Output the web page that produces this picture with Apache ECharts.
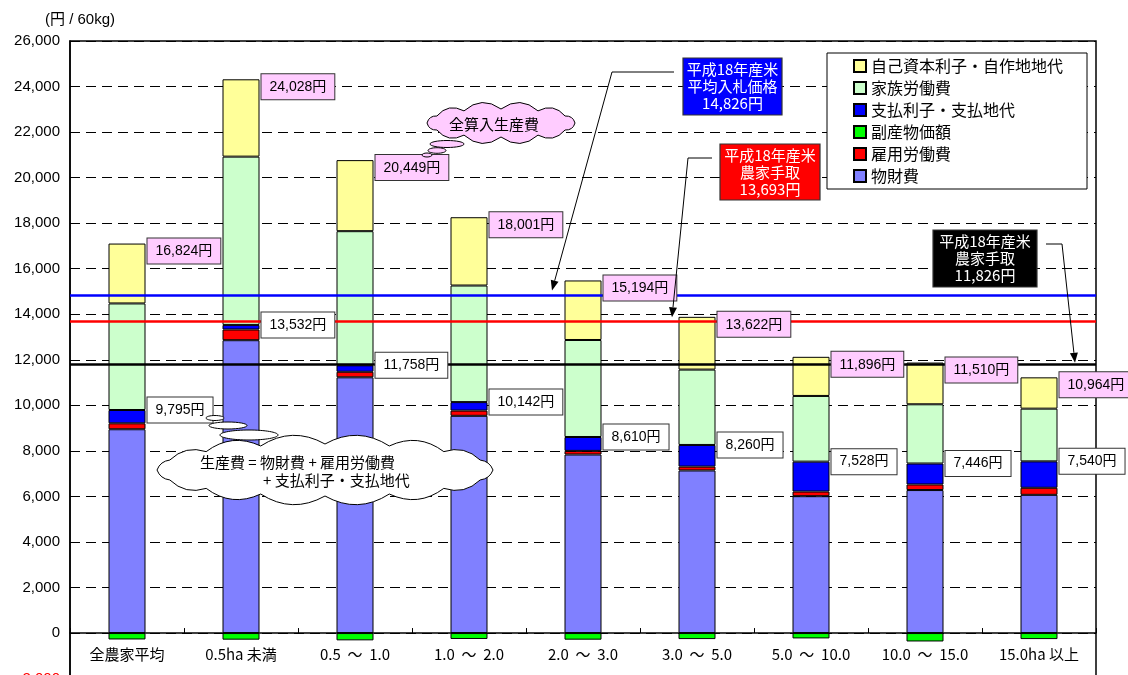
<!DOCTYPE html>
<html>
<head>
<meta charset="utf-8">
<script src="https://cdn.jsdelivr.net/npm/echarts@6/dist/echarts.min.js"></script>
<style>
  html, body { margin: 0; padding: 0; background: #fff; }
  #chart { width: 1128px; height: 675px; }
</style>
</head>
<body>
<div id="chart"></div>
<script>
// 作付規模別 米生産費（円 / 60kg）
const categories = ['全農家平均', '0.5ha 未満', '0.5  ～  1.0', '1.0  ～  2.0', '2.0  ～  3.0',
                    '3.0  ～  5.0', '5.0  ～  10.0', '10.0  ～  15.0', '15.0ha 以上'];

const materialCost     = [8950, 12860, 11230, 9540, 7840, 7140, 6010, 6280, 6070];   // 物財費
const hiredLabor       = [260, 470, 245, 230, 160, 170, 205, 245, 310];              // 雇用労働費
const paidInterestRent = [585, 202, 283, 372, 610, 950, 1313, 921, 1160];            // 支払利子・支払地代
const familyLabor      = [4680, 7390, 5890, 5120, 4260, 3310, 2885, 2600, 2315];     // 家族労働費
const ownCapitalLand   = [2630, 3396, 3121, 2999, 2614, 2317, 1718, 1834, 1374];     // 自己資本利子・自作地地代
const byproductValue   = [-281, -290, -320, -260, -290, -265, -235, -370, -265];     // 副産物価額

// 生産費（物財費＋雇用労働費＋支払利子・支払地代）
const productionCost = [9795, 13532, 11758, 10142, 8610, 8260, 7528, 7446, 7540];
// 全算入生産費
const fullCost = [16824, 24028, 20449, 18001, 15194, 13622, 11896, 11510, 10964];

// 平成18年産米の基準価格
const avgBidPrice = 14826;     // 平均入札価格
const farmerReceipt = 13693;   // 農家手取
const farmerReceipt2 = 11826;  // 農家手取

const yTicks = { min: -2000, max: 26000, interval: 2000 };

const FONT = '"Noto Sans CJK JP", "Liberation Sans", sans-serif';
const NUM_FONT = '"Liberation Sans", "Noto Sans CJK JP", sans-serif';

const yen = v => v.toLocaleString('en-US') + '円';

// 雲形の吹き出し
const CloudShape = echarts.graphic.extendShape({
  type: 'cloud',
  shape: { cx: 0, cy: 0, rx: 10, ry: 5, n: 12, k: 0.45 },
  buildPath: function (ctx, s) {
    const pts = [];
    for (let i = 0; i <= s.n; i++) {
      const a = (2 * Math.PI * i) / s.n;
      pts.push([s.cx + s.rx * Math.cos(a), s.cy + s.ry * Math.sin(a)]);
    }
    ctx.moveTo(pts[0][0], pts[0][1]);
    for (let i = 0; i < s.n; i++) {
      const p0 = pts[i], p1 = pts[i + 1];
      const mx = (p0[0] + p1[0]) / 2, my = (p0[1] + p1[1]) / 2;
      const dx = p1[0] - p0[0], dy = p1[1] - p0[1];
      let nx = -dy, ny = dx;
      if (nx * (mx - s.cx) + ny * (my - s.cy) < 0) { nx = -nx; ny = -ny; }
      const nl = Math.sqrt(nx * nx + ny * ny) || 1;
      const h = Math.sqrt(dx * dx + dy * dy) * s.k;
      ctx.quadraticCurveTo(mx + nx / nl * h, my + ny / nl * h, p1[0], p1[1]);
    }
    ctx.closePath();
  }
});
echarts.graphic.registerShape('cloud', CloudShape);

const chart = echarts.init(document.getElementById('chart'), null, { renderer: 'canvas' });

const BAR_WIDTH = 37;

function barSeries(name, data, color) {
  return {
    type: 'bar',
    name: name,
    stack: 'cost',
    data: data,
    barWidth: BAR_WIDTH,
    z: 2,
    itemStyle: { color: color, borderColor: '#000', borderWidth: 1 },
    emphasis: { disabled: true }
  };
}

// 値ラベル用の位置（積み上げの上端）
const stackTop = categories.map((c, i) =>
  [i, materialCost[i] + hiredLabor[i] + paidInterestRent[i] + familyLabor[i] + ownCapitalLand[i]]);
const paidTop = categories.map((c, i) =>
  [i, materialCost[i] + hiredLabor[i] + paidInterestRent[i]]);

function labelSeries(name, points, texts, bg, vAlign, dy) {
  return {
    type: 'scatter',
    name: name,
    data: points,
    symbol: 'rect',
    symbolSize: 0.01,
    z: 10,
    silent: true,
    itemStyle: { color: '#000' },
    emphasis: { disabled: true },
    label: {
      show: true,
      position: [0, 0],
      align: 'left',
      verticalAlign: vAlign,
      offset: [BAR_WIDTH / 2 + 2, dy],
      fontFamily: NUM_FONT,
      fontSize: 14,
      color: '#000',
      opacity: 1,
      backgroundColor: bg,
      borderColor: '#333',
      borderWidth: 1,
      padding: [6, 8, 5, 8],
      formatter: p => yen(texts[p.dataIndex])
    }
  };
}

const GRID_TOP = 41, GRID_HEIGHT = 637.6;
const zeroOffset = GRID_HEIGHT * (0 - yTicks.min) / (yTicks.max - yTicks.min);

const option = {
  animation: false,
  textStyle: { fontFamily: FONT },
  grid: {
    left: 70, top: GRID_TOP, width: 1026, height: GRID_HEIGHT,
    outerBoundsMode: 'none', containLabel: false,
    show: true, borderColor: '#000', borderWidth: 1.5, backgroundColor: 'transparent'
  },
  legend: {
    data: ['自己資本利子・自作地地代', '家族労働費', '支払利子・支払地代', '副産物価額', '雇用労働費', '物財費'],
    orient: 'vertical',
    left: 827,
    top: 53,
    padding: [5, 24, 5, 26],
    itemWidth: 12,
    itemHeight: 12,
    itemGap: 6,
    icon: 'rect',
    selectedMode: false,
    backgroundColor: '#fff',
    borderColor: '#000',
    borderWidth: 1,
    textStyle: { fontFamily: FONT, fontSize: 16, color: '#000' },
    z: 20
  },
  xAxis: {
    type: 'category',
    data: categories,
    position: 'bottom',
    offset: -zeroOffset,
    axisLine: { onZero: false, lineStyle: { color: '#000', width: 1.5 } },
    axisTick: { show: true, inside: true, length: 5, lineStyle: { color: '#000' } },
    axisLabel: { fontFamily: FONT, fontSize: 15, color: '#000', margin: 14 },
    splitLine: { show: false }
  },
  yAxis: {
    type: 'value',
    min: yTicks.min,
    max: yTicks.max,
    interval: yTicks.interval,
    name: '(円 / 60kg)',
    nameLocation: 'end',
    nameGap: 14,
    nameTextStyle: { fontFamily: NUM_FONT, fontSize: 15, color: '#000', align: 'left', padding: [0, 0, 0, -25] },
    axisLine: { show: true, lineStyle: { color: '#000', width: 1.5 } },
    axisTick: { show: false },
    axisLabel: {
      fontFamily: NUM_FONT,
      fontSize: 15,
      margin: 10,
      color: v => (v < 0 ? '#FF0000' : '#000'),
      formatter: v => v.toLocaleString('en-US')
    },
    splitLine: { show: true, lineStyle: { color: '#000', type: [10, 6], width: 1 } }
  },
  series: [
    barSeries('物財費', materialCost, '#8080FF'),
    barSeries('雇用労働費', hiredLabor, '#FF0000'),
    barSeries('支払利子・支払地代', paidInterestRent, '#0000FF'),
    barSeries('家族労働費', familyLabor, '#CCFFCC'),
    barSeries('自己資本利子・自作地地代', ownCapitalLand, '#FFFF99'),
    barSeries('副産物価額', byproductValue, '#00FF00'),
    {
      type: 'line',
      name: '基準価格',
      data: [],
      z: 5,
      silent: true,
      markLine: {
        silent: true,
        symbol: 'none',
        animation: false,
        label: { show: false },
        data: [
          { yAxis: avgBidPrice, lineStyle: { color: '#0000FF', width: 2.5, type: 'solid' } },
          { yAxis: farmerReceipt, lineStyle: { color: '#FF0000', width: 2.5, type: 'solid' } },
          { yAxis: farmerReceipt2, lineStyle: { color: '#000000', width: 2.5, type: 'solid' } }
        ]
      }
    },
    labelSeries('生産費', paidTop, productionCost, '#FFFFFF', 'middle', 0),
    labelSeries('全算入生産費', stackTop, fullCost, '#FFCCFF', 'top', -5)
  ]
};

chart.setOption(option);

// ---- 注記（吹き出し・矢印） ----
function yPix(v) { return chart.convertToPixel({ yAxisIndex: 0 }, v); }

function arrow(points, tip) {
  const all = points.concat([tip]);
  const prev = all[all.length - 2];
  const dx = tip[0] - prev[0], dy = tip[1] - prev[1];
  const len = Math.sqrt(dx * dx + dy * dy);
  const ux = dx / len, uy = dy / len;
  const L = 10, W = 4;
  const bx = tip[0] - ux * L, by = tip[1] - uy * L;
  return [
    { type: 'polyline', z: 50, shape: { points: all.slice(0, -1).concat([[bx, by]]) }, style: { stroke: '#000', lineWidth: 1, fill: null } },
    { type: 'polygon', z: 50, shape: { points: [tip, [bx - uy * W, by + ux * W], [bx + uy * W, by - ux * W]] }, style: { fill: '#000' } }
  ];
}

function bubble(cx, cy, rx, ry, fill) {
  return { type: 'ellipse', z: 40, shape: { cx: cx, cy: cy, rx: rx, ry: ry }, style: { fill: fill, stroke: '#000', lineWidth: 1 } };
}

function calloutBox(x, y, w, h, bg, lines, cx, cyMid) {
  return [
    { type: 'rect', z: 45, shape: { x: x, y: y, width: w, height: h }, style: { fill: bg, stroke: '#333', lineWidth: 1.2 } },
    { type: 'text', z: 46, x: cx, y: cyMid, style: { text: lines.join('\n'), fill: '#fff', font: '15px ' + FONT, align: 'center', verticalAlign: 'middle', lineHeight: 17 } }
  ];
}

const yBlue = yPix(avgBidPrice), yRed = yPix(farmerReceipt), yBlack = yPix(farmerReceipt2);

const graphics = []
  // 全算入生産費の吹き出し
  .concat([
    { type: 'cloud', z: 40, shape: { cx: 501, cy: 123, rx: 74, ry: 14, n: 12, k: 0.4 }, style: { fill: '#FFCCFF', stroke: '#000', lineWidth: 1 } },
    bubble(447, 144, 17, 3.5, '#FFCCFF'),
    bubble(437, 150.5, 9, 2.8, '#FFCCFF'),
    bubble(427, 155, 5, 2, '#FFCCFF'),
    { type: 'text', z: 41, x: 494, y: 124, style: { text: '全算入生産費', fill: '#000', font: '15px ' + FONT, align: 'center', verticalAlign: 'middle' } }
  ])
  // 生産費の吹き出し
  .concat([
    bubble(215, 418, 9, 2.5, '#fff'),
    bubble(228, 425.5, 19, 3.5, '#fff'),
    bubble(249, 435, 29, 5, '#fff'),
    { type: 'cloud', z: 40, shape: { cx: 325, cy: 470, rx: 168, ry: 26, n: 16, k: 0.3 }, style: { fill: '#fff', stroke: '#000', lineWidth: 1 } },
    { type: 'text', z: 41, x: 200, y: 462, style: { text: '生産費 = 物財費 + 雇用労働費', fill: '#000', font: '15px ' + FONT, align: 'left', verticalAlign: 'middle' } },
    { type: 'text', z: 41, x: 263, y: 480, style: { text: '+ 支払利子・支払地代', fill: '#000', font: '15px ' + FONT, align: 'left', verticalAlign: 'middle' } }
  ])
  // 基準価格の説明と矢印
  .concat(calloutBox(683, 58, 99, 57, '#0000FF', ['平成18年産米', '平均入札価格', yen(avgBidPrice)], 732.5, 86))
  .concat(arrow([[674, 72], [612, 72]], [552, yBlue - 5]))
  .concat(calloutBox(720, 144, 100, 56, '#FF0000', ['平成18年産米', '農家手取', yen(farmerReceipt)], 770, 172))
  .concat(arrow([[712, 158], [688, 158]], [672, yRed - 4]))
  .concat(calloutBox(933, 230, 104, 57, '#000000', ['平成18年産米', '農家手取', yen(farmerReceipt2)], 985, 258))
  .concat(arrow([[1046, 244], [1062, 244]], [1075, yBlack - 1]));

chart.setOption({ graphic: { elements: graphics } });
</script>
</body>
</html>
